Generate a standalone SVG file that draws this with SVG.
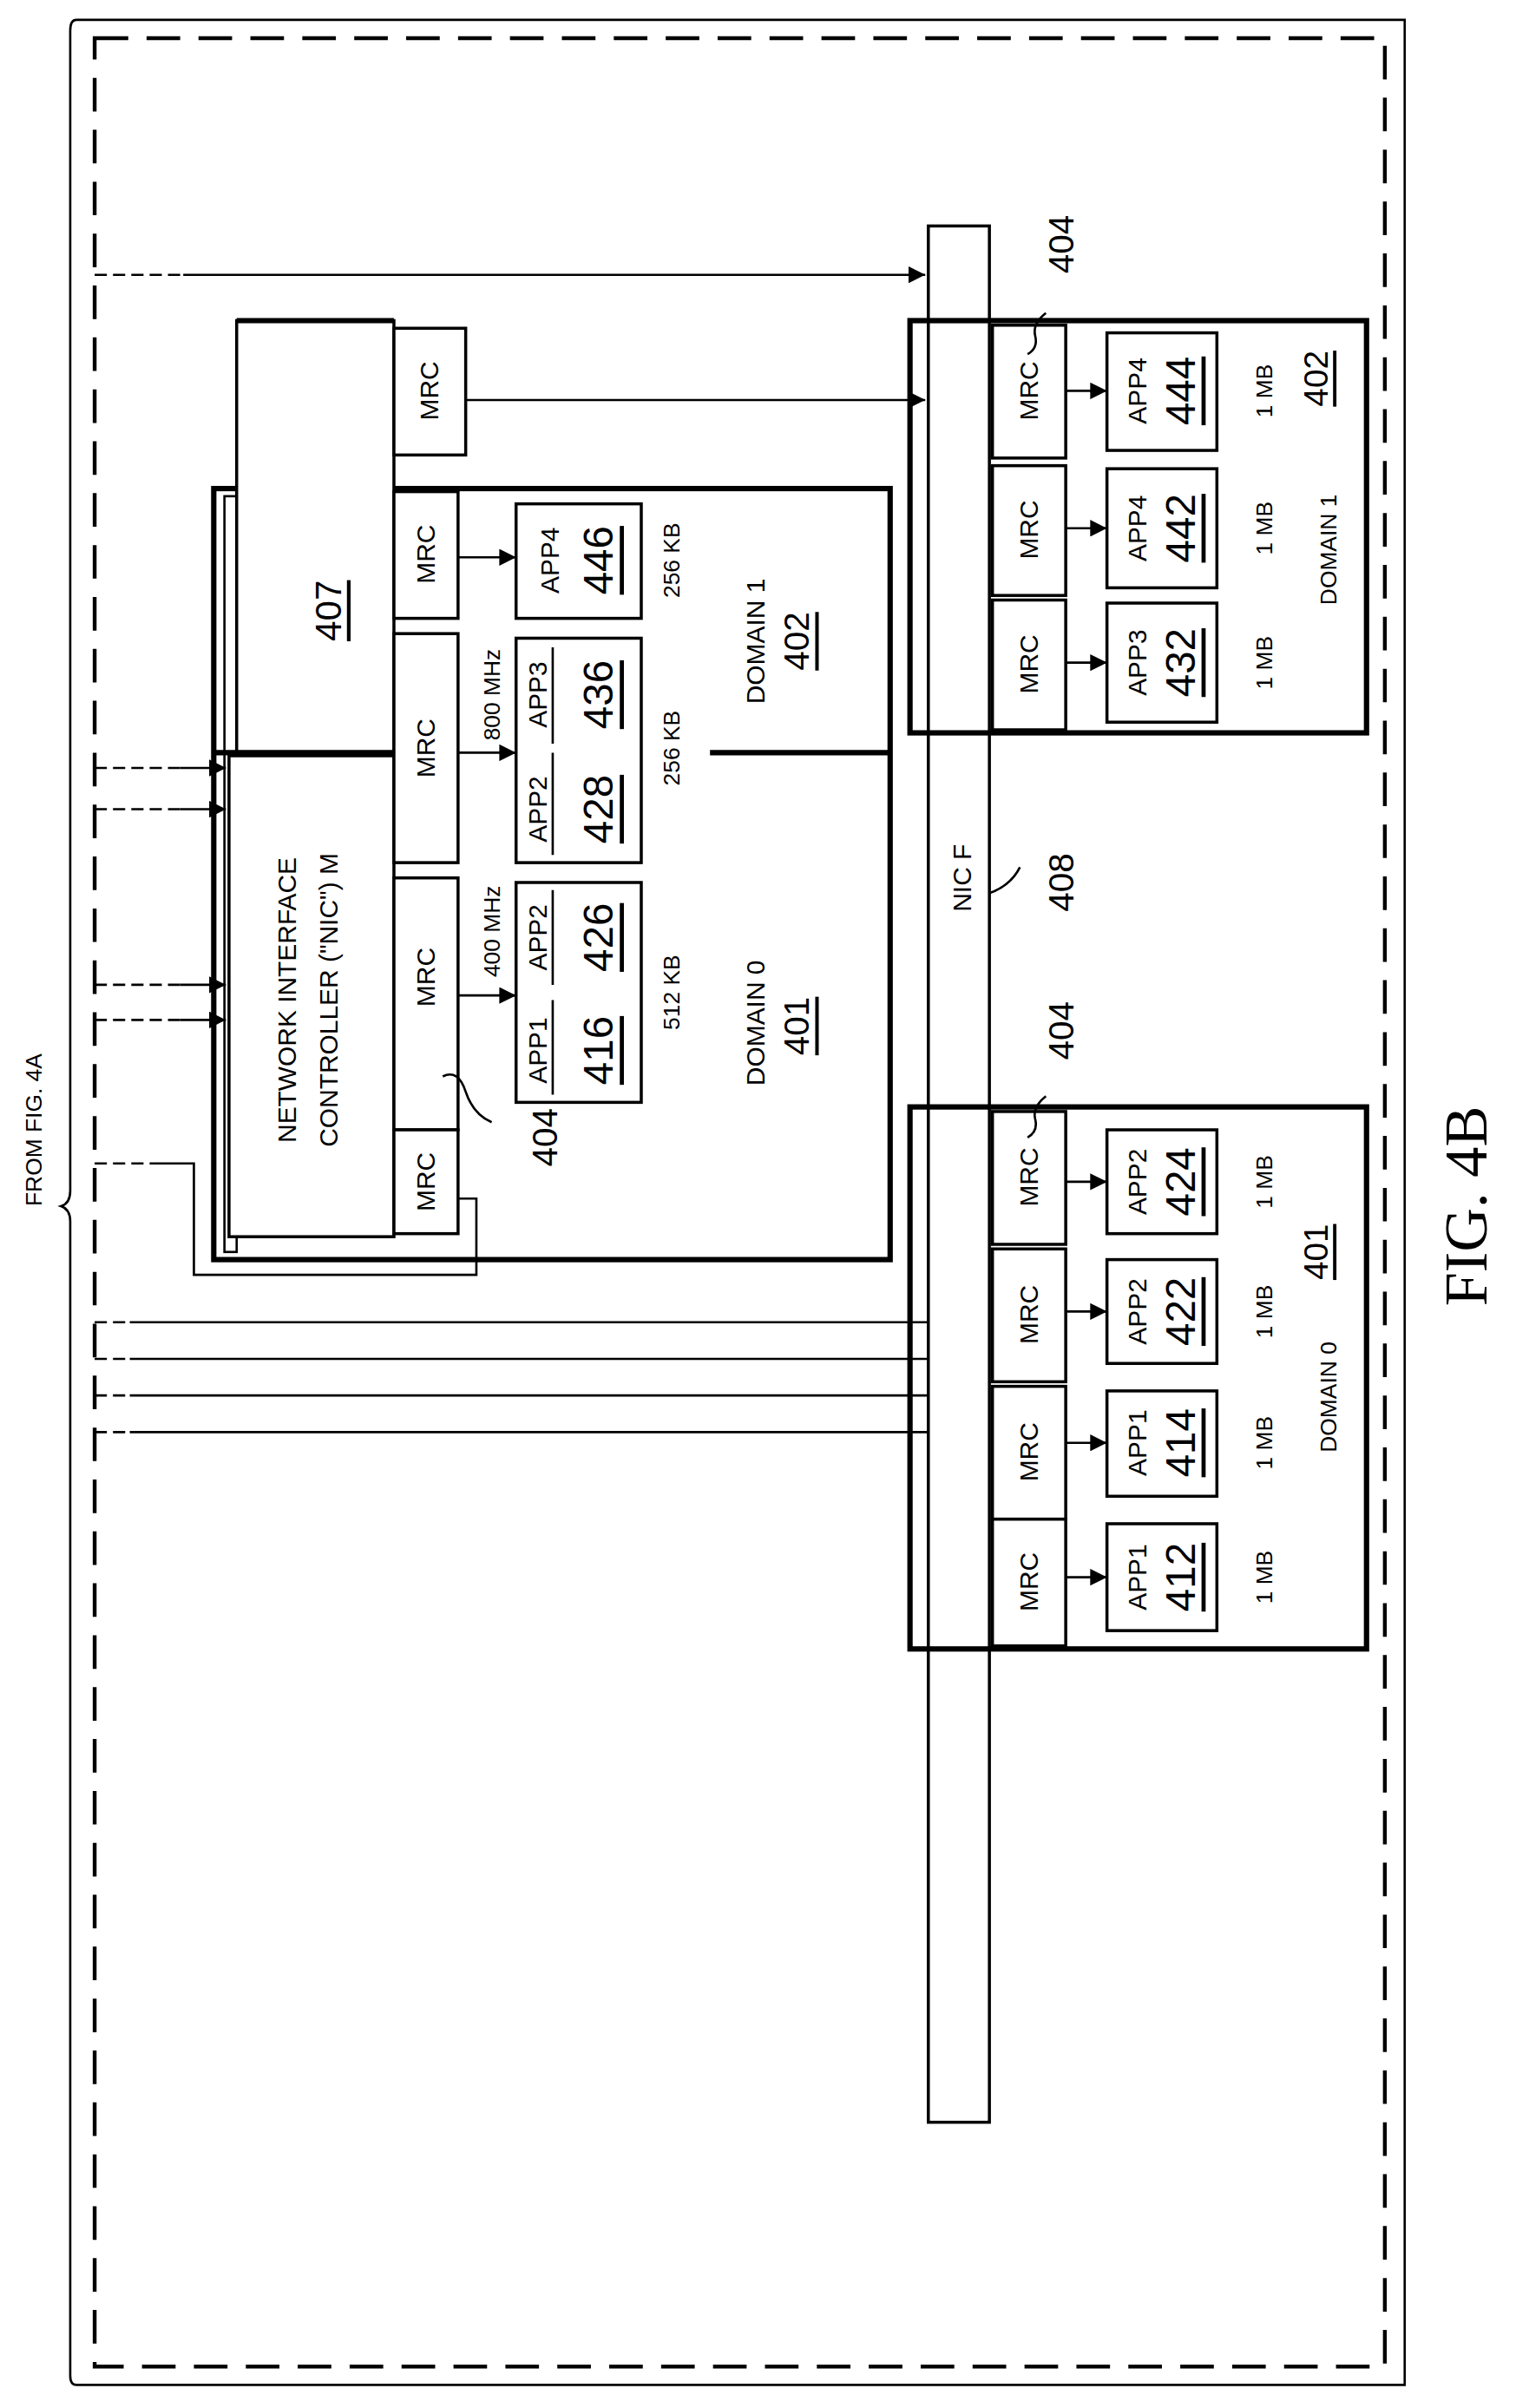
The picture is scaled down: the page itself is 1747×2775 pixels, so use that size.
<svg xmlns="http://www.w3.org/2000/svg" width="1747" height="2775" viewBox="0 0 1747 2775">
<style>
text{font-family:"Liberation Sans",Arial,sans-serif;fill:#000;text-anchor:middle;dominant-baseline:central}
.s{font-size:17px}.n{font-size:27px;text-decoration:underline}.l{font-size:15px}.r{font-size:23px}
.b{fill:#fff;stroke:#000;stroke-width:2}.t{fill:none;stroke:#000;stroke-width:3.5}
.w{fill:none;stroke:#000;stroke-width:1.5}.d{fill:none;stroke:#000;stroke-width:1.5;stroke-dasharray:8 4}
</style>
<defs><marker id="a" viewBox="0 0 10 10" refX="10" refY="5" markerWidth="11" markerHeight="11" markerUnits="userSpaceOnUse" orient="auto"><path d="M0,0L10,5L0,10z"/></marker></defs>
<rect width="1747" height="2775" fill="#fff"/>
<g transform="scale(1.7595)">
<g id="frame">
<path d="M50,13H920V1562H50" class="w" stroke-width="2"/>
<path d="M50,13Q46,13 46,20V780Q46,788 40,790Q46,792 46,800V1556Q46,1562 50,1562" class="w" stroke-width="2"/>
<rect x="62" y="25" width="845" height="1525" fill="none" stroke="#000" stroke-width="2.5" stroke-dasharray="22 12"/>
<text transform="translate(22,790) rotate(-90)" class="l" style="text-anchor:start">FROM FIG. 4A</text>
<text transform="translate(960,790) rotate(-90)" style="font-family:'Liberation Serif',serif;font-size:40px">FIG. 4B</text>
</g>
<g id="nicf"><rect x="608" y="148" width="40" height="1242" class="b"/><text transform="translate(630,575) rotate(-90)" class="s">NIC F</text>
<path d="M648,585Q662,580 668,568" class="w"/><text transform="translate(695,578) rotate(-90)" class="r">408</text></g>
<g id="dom1r"><rect x="596" y="210" width="299" height="270" class="t"/>
<rect x="650" y="213" width="48" height="87" class="b"/><rect x="650" y="305" width="48" height="85" class="b"/><rect x="650" y="393" width="48" height="85" class="b"/>
<text transform="translate(674,256) rotate(-90)" class="s">MRC</text><text transform="translate(674,347) rotate(-90)" class="s">MRC</text><text transform="translate(674,435) rotate(-90)" class="s">MRC</text>
<rect x="725" y="218" width="72" height="77" class="b"/><rect x="725" y="307" width="72" height="78" class="b"/><rect x="725" y="395" width="72" height="78" class="b"/>
<text transform="translate(745,256) rotate(-90)" class="s">APP4</text><text transform="translate(773,256) rotate(-90)" class="n">444</text>
<text transform="translate(745,346) rotate(-90)" class="s">APP4</text><text transform="translate(773,346) rotate(-90)" class="n">442</text>
<text transform="translate(745,434) rotate(-90)" class="s">APP3</text><text transform="translate(773,434) rotate(-90)" class="n">432</text>
<text transform="translate(828,256) rotate(-90)" class="l">1 MB</text><text transform="translate(828,346) rotate(-90)" class="l">1 MB</text><text transform="translate(828,434) rotate(-90)" class="l">1 MB</text>
<text transform="translate(870,360) rotate(-90)" class="l">DOMAIN 1</text><text transform="translate(862,248) rotate(-90)" class="n" style="font-size:22px">402</text>
<path d="M673,232Q680,228 678,220Q676,212 685,205" class="w"/><text transform="translate(695,160) rotate(-90)" class="r">404</text></g>
<g id="dom0r"><rect x="596" y="725" width="299" height="355" class="t"/>
<rect x="650" y="728" width="48" height="87" class="b"/><rect x="650" y="818" width="48" height="87" class="b"/><rect x="650" y="908" width="48" height="87" class="b"/><rect x="650" y="995" width="48" height="83" class="b"/>
<text transform="translate(674,771) rotate(-90)" class="s">MRC</text><text transform="translate(674,861) rotate(-90)" class="s">MRC</text><text transform="translate(674,951) rotate(-90)" class="s">MRC</text><text transform="translate(674,1036) rotate(-90)" class="s">MRC</text>
<rect x="725" y="740" width="72" height="68" class="b"/><rect x="725" y="825" width="72" height="68" class="b"/><rect x="725" y="911" width="72" height="69" class="b"/><rect x="725" y="998" width="72" height="70" class="b"/>
<text transform="translate(745,774) rotate(-90)" class="s">APP2</text><text transform="translate(773,774) rotate(-90)" class="n">424</text>
<text transform="translate(745,859) rotate(-90)" class="s">APP2</text><text transform="translate(773,859) rotate(-90)" class="n">422</text>
<text transform="translate(745,945) rotate(-90)" class="s">APP1</text><text transform="translate(773,945) rotate(-90)" class="n">414</text>
<text transform="translate(745,1033) rotate(-90)" class="s">APP1</text><text transform="translate(773,1033) rotate(-90)" class="n">412</text>
<text transform="translate(828,774) rotate(-90)" class="l">1 MB</text><text transform="translate(828,859) rotate(-90)" class="l">1 MB</text><text transform="translate(828,945) rotate(-90)" class="l">1 MB</text><text transform="translate(828,1033) rotate(-90)" class="l">1 MB</text>
<text transform="translate(870,915) rotate(-90)" class="l">DOMAIN 0</text><text transform="translate(862,820) rotate(-90)" class="n" style="font-size:22px">401</text>
<path d="M673,745Q680,741 678,733Q676,725 685,718" class="w"/><text transform="translate(695,675) rotate(-90)" class="r">404</text></g>
<g id="left">
<rect x="140" y="320" width="443" height="505" class="t"/>
<path d="M465,493H583" class="t"/>
<rect x="147" y="325" width="8" height="495" fill="none" stroke="#000" stroke-width="1.5"/>
<rect x="155" y="210" width="103" height="285" class="b"/>
<path d="M155,210H258" class="t"/>
<text transform="translate(215,400) rotate(-90)" class="n" style="font-size:24px">407</text>
<rect x="150" y="495" width="108" height="315" class="b"/>
<path d="M140,493H258" class="t"/>
<text transform="translate(188,655) rotate(-90)" class="s">NETWORK INTERFACE</text>
<text transform="translate(215,655) rotate(-90)" class="s">CONTROLLER ("NIC") M</text>
<rect x="258" y="215" width="47" height="83" class="b"/><text transform="translate(281,256) rotate(-90)" class="s">MRC</text>
<rect x="258" y="322" width="42" height="83" class="b"/><text transform="translate(279,363) rotate(-90)" class="s">MRC</text>
<rect x="258" y="415" width="42" height="150" class="b"/><text transform="translate(279,490) rotate(-90)" class="s">MRC</text>
<rect x="258" y="575" width="42" height="165" class="b"/><text transform="translate(279,640) rotate(-90)" class="s">MRC</text>
<rect x="258" y="740" width="42" height="68" class="b"/><text transform="translate(279,774) rotate(-90)" class="s">MRC</text>
<rect x="338" y="330" width="82" height="75" class="b"/>
<text transform="translate(360,367) rotate(-90)" class="s">APP4</text><text transform="translate(392,367) rotate(-90)" class="n">446</text>
<rect x="338" y="418" width="82" height="147" class="b"/><path d="M362,493V560M362,424V487" class="w"/>
<text transform="translate(352,455) rotate(-90)" class="s">APP3</text><text transform="translate(392,455) rotate(-90)" class="n">436</text>
<text transform="translate(352,530) rotate(-90)" class="s">APP2</text><text transform="translate(392,530) rotate(-90)" class="n">428</text>
<rect x="338" y="578" width="82" height="144" class="b"/><path d="M362,583V645M362,655V717" class="w"/>
<text transform="translate(352,614) rotate(-90)" class="s">APP2</text><text transform="translate(392,614) rotate(-90)" class="n">426</text>
<text transform="translate(352,688) rotate(-90)" class="s">APP1</text><text transform="translate(392,688) rotate(-90)" class="n">416</text>
<text transform="translate(322,455) rotate(-90)" class="l">800 MHz</text><text transform="translate(322,610) rotate(-90)" class="l">400 MHz</text>
<text transform="translate(440,367) rotate(-90)" class="l">256 KB</text><text transform="translate(440,490) rotate(-90)" class="l">256 KB</text><text transform="translate(440,650) rotate(-90)" class="l">512 KB</text>
<text transform="translate(495,420) rotate(-90)" class="s">DOMAIN 1</text><text transform="translate(522,420) rotate(-90)" class="n" style="font-size:23px">402</text>
<text transform="translate(495,670) rotate(-90)" class="s">DOMAIN 0</text><text transform="translate(522,672) rotate(-90)" class="n" style="font-size:23px">401</text>
<path d="M290,705Q300,700 305,715Q310,730 322,735" class="w"/><text transform="translate(357,745) rotate(-90)" class="r">404</text>
</g>
<g id="connectors">
<path d="M300,365H338" class="w" marker-end="url(#a)"/>
<path d="M300,493H338" class="w" marker-end="url(#a)"/>
<path d="M300,652H338" class="w" marker-end="url(#a)"/>
<path d="M698,256H725" class="w" marker-end="url(#a)"/>
<path d="M698,346H725" class="w" marker-end="url(#a)"/>
<path d="M698,434H725" class="w" marker-end="url(#a)"/>
<path d="M698,774H725" class="w" marker-end="url(#a)"/>
<path d="M698,859H725" class="w" marker-end="url(#a)"/>
<path d="M698,945H725" class="w" marker-end="url(#a)"/>
<path d="M698,1033H725" class="w" marker-end="url(#a)"/>
<path d="M305,262H606" class="w" marker-end="url(#a)"/>
<path d="M62,180H120" class="d"/><path d="M120,180H606" class="w" marker-end="url(#a)"/>
<path d="M62,503H118M62,530H118M62,645H118M62,668H118" class="d"/>
<path d="M118,503H148" class="w" marker-end="url(#a)"/>
<path d="M118,530H148" class="w" marker-end="url(#a)"/>
<path d="M118,645H148" class="w" marker-end="url(#a)"/>
<path d="M118,668H148" class="w" marker-end="url(#a)"/>
<path d="M62,762H100" class="d"/><path d="M100,762H127V835H312V785H300" class="w"/>
<path d="M62,866H85M62,890H85M62,914H85M62,938H85" class="d"/>
<path d="M85,866H608M85,890H608M85,914H608M85,938H608" class="w"/>
</g>
</g>
</svg>
